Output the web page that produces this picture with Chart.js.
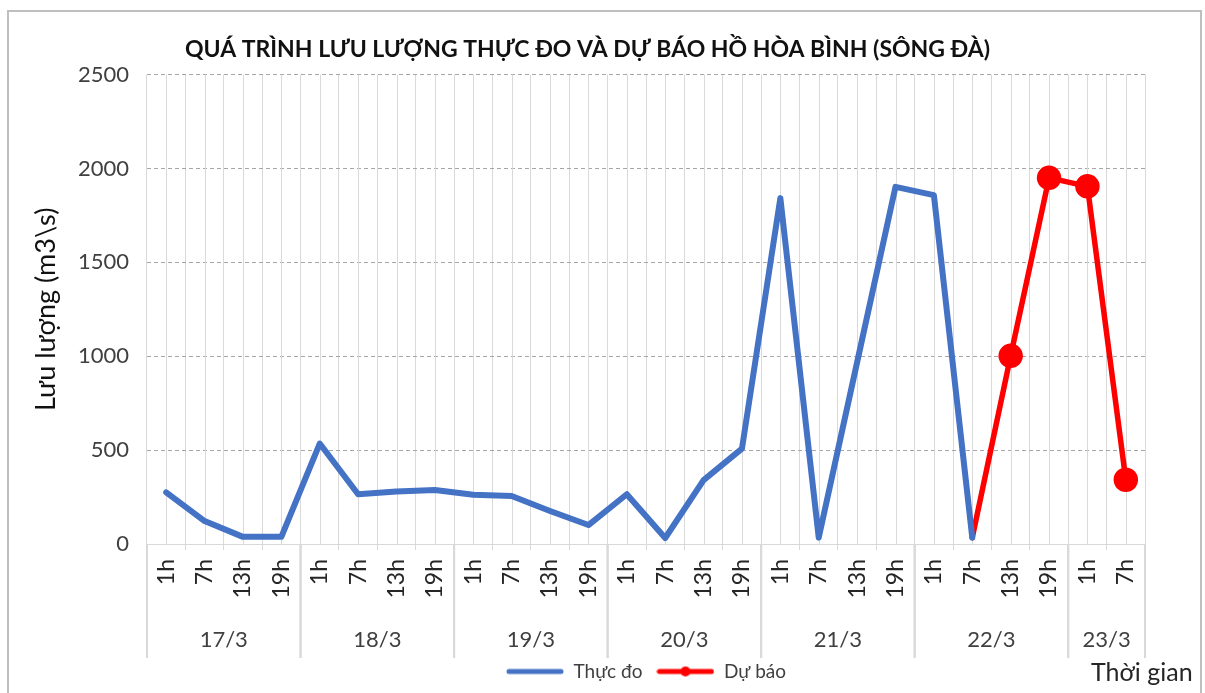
<!DOCTYPE html>
<html>
<head>
<meta charset="utf-8">
<script src="https://cdn.jsdelivr.net/npm/chart.js@4.4.1/dist/chart.umd.min.js"></script>
<style>
  html, body { margin: 0; padding: 0; background: #fff; }
  #wrap { width: 1205px; height: 693px; }
</style>
</head>
<body>
<div id="wrap"><canvas id="chart" width="1205" height="693"></canvas></div>
<script>
// Categories: hour of observation and the day it belongs to
const hours = ['1h', '7h', '13h', '19h', '1h', '7h', '13h', '19h', '1h', '7h', '13h', '19h',
  '1h', '7h', '13h', '19h', '1h', '7h', '13h', '19h', '1h', '7h', '13h', '19h', '1h', '7h'];
const days = ['17/3', '17/3', '17/3', '17/3', '18/3', '18/3', '18/3', '18/3',
  '19/3', '19/3', '19/3', '19/3', '20/3', '20/3', '20/3', '20/3',
  '21/3', '21/3', '21/3', '21/3', '22/3', '22/3', '22/3', '22/3', '23/3', '23/3'];

// Flow values (m3/s)
const thucDo = [275, 122, 38, 38, 535, 265, 280, 288, 262, 256, 176, 101,
  265, 32, 340, 508, 1842, 34, 968, 1902, 1858, 34, null, null, null, null];
const duBao = [null, null, null, null, null, null, null, null, null, null, null, null,
  null, null, null, null, null, null, null, null, null, 34, 1002, 1950, 1905, 342];

const yTicks = [0, 500, 1000, 1500, 2000, 2500];

const FONT = 'Lato, "Noto Sans", sans-serif';
const BLUE = '#4472C4';
const RED = '#FF0000';
const GRID = '#D9D9D9';

// small canvases used as legend symbols (line, or line with a dot)
const legendSymbol = (color, withDot) => {
  const c = document.createElement('canvas');
  c.width = 58;
  c.height = 12;
  const g = c.getContext('2d');
  g.strokeStyle = color;
  g.lineWidth = 5;
  g.lineCap = 'round';
  g.beginPath();
  g.moveTo(3, 6);
  g.lineTo(55, 6);
  g.stroke();
  if (withDot) {
    g.fillStyle = color;
    g.beginPath();
    g.arc(29, 6, 5, 0, Math.PI * 2);
    g.fill();
  }
  return c;
};

const axisLabels = {
  id: 'axisLabels',
  beforeDraw(chart) {
    const ctx = chart.ctx;
    ctx.save();
    ctx.fillStyle = '#fff';
    ctx.fillRect(0, 0, chart.width, chart.height);
    ctx.strokeStyle = '#BFBFBF';
    ctx.lineWidth = 2;
    ctx.strokeRect(8, 11, 1193, 700);
    ctx.restore();
  },
  beforeDatasetsDraw(chart) {
    // vertical gridlines through each category centre
    const ctx = chart.ctx;
    const x = chart.scales.x;
    const area = chart.chartArea;
    ctx.save();
    ctx.strokeStyle = GRID;
    ctx.lineWidth = 1;
    hours.forEach((h, i) => {
      const px = Math.round(x.getPixelForValue(i)) + 0.5;
      ctx.beginPath();
      ctx.moveTo(px, area.top);
      ctx.lineTo(px, area.bottom);
      ctx.stroke();
    });
    ctx.restore();
  },
  afterDraw(chart) {
    const ctx = chart.ctx;
    const x = chart.scales.x;
    const area = chart.chartArea;
    const step = x.getPixelForValue(1) - x.getPixelForValue(0);
    ctx.save();

    // hour labels, rotated
    ctx.fillStyle = '#262626';
    ctx.font = '23px ' + FONT;
    ctx.textAlign = 'right';
    ctx.textBaseline = 'middle';
    hours.forEach((h, i) => {
      ctx.save();
      ctx.translate(x.getPixelForValue(i), area.bottom + 15);
      ctx.rotate(-Math.PI / 2);
      ctx.fillText(h, 0, 0);
      ctx.restore();
    });

    // day groups: separators and centred labels
    ctx.strokeStyle = GRID;
    ctx.lineWidth = 2;
    ctx.font = '22px ' + FONT;
    ctx.textAlign = 'center';
    ctx.fillStyle = '#404040';
    let start = 0;
    for (let i = 1; i <= days.length; i++) {
      if (i === days.length || days[i] !== days[start]) {
        const left = x.getPixelForValue(start) - step / 2;
        const right = x.getPixelForValue(i - 1) + step / 2;
        [left, right].forEach(px => {
          ctx.beginPath();
          ctx.moveTo(px, area.bottom);
          ctx.lineTo(px, area.bottom + 114);
          ctx.stroke();
        });
        ctx.fillText(days[start], (left + right) / 2, area.bottom + 96);
        start = i;
      }
    }

    ctx.font = '25px ' + FONT;
    ctx.textAlign = 'left';
    ctx.fillStyle = '#262626';
    ctx.fillText('Thời gian', 1091, 673);
    ctx.restore();
  }
};

new Chart(document.getElementById('chart'), {
  type: 'line',
  data: {
    labels: hours.map((h, i) => days[i] + ' ' + h),
    datasets: [
      {
        label: 'Thực đo',
        data: thucDo,
        borderColor: BLUE,
        backgroundColor: BLUE,
        borderWidth: 6,
        borderJoinStyle: 'round',
        borderCapStyle: 'round',
        pointRadius: 0,
        tension: 0
      },
      {
        label: 'Dự báo',
        data: duBao,
        borderColor: RED,
        backgroundColor: RED,
        borderWidth: 5.5,
        borderJoinStyle: 'round',
        borderCapStyle: 'round',
        pointRadius: (c) => (c.dataIndex === 21 ? 0 : 9.5),
        pointBackgroundColor: RED,
        pointBorderColor: RED,
        tension: 0
      }
    ]
  },
  options: {
    responsive: false,
    animation: false,
    layout: {
      padding: { left: 30, right: 60, top: 10, bottom: 2 }
    },
    plugins: {
      title: {
        display: true,
        text: 'QUÁ TRÌNH LƯU LƯỢNG THỰC ĐO VÀ DỰ BÁO HỒ HÒA BÌNH (SÔNG ĐÀ)',
        color: '#111',
        font: { family: FONT, size: 23, weight: 'bold' },
        padding: { top: 26, bottom: 11 }
      },
      legend: {
        position: 'bottom',
        fullSize: false,
        labels: {
          color: '#404040',
          font: { family: FONT, size: 19 },
          usePointStyle: true,
          pointStyleWidth: 58,
          boxHeight: 12,
          padding: 14,
          generateLabels: (chart) => {
            const items = Chart.defaults.plugins.legend.labels.generateLabels(chart);
            items[0].pointStyle = legendSymbol(BLUE, false);
            items[1].pointStyle = legendSymbol(RED, true);
            return items;
          }
        }
      },
      tooltip: { enabled: false }
    },
    scales: {
      x: {
        offset: true,
        grid: {
          offset: true,
          color: GRID,
          tickLength: 6,
          tickColor: GRID
        },
        border: { color: GRID, width: 1 },
        ticks: { display: false },
        afterFit: (scale) => { scale.height = 104; }
      },
      y: {
        min: 0,
        max: 2500,
        afterBuildTicks: (scale) => { scale.ticks = yTicks.map(v => ({ value: v })); },
        grid: {
          drawTicks: false,
          color: (c) => (c.tick && c.tick.value === 0 ? 'rgba(0,0,0,0)' : '#A6A6A6')
        },
        border: { display: false, dash: [4, 3] },
        ticks: {
          color: '#404040',
          font: { family: FONT, size: 22 },
          padding: 18,
          callback: (v) => String(v)
        },
        title: {
          display: true,
          text: 'Lưu lượng (m3\\s)',
          color: '#111',
          font: { family: FONT, size: 27 },
          padding: { top: 0, bottom: 4 }
        },
        afterFit: (scale) => { scale.width = 117; }
      }
    }
  },
  plugins: [axisLabels]
});
</script>
</body>
</html>
